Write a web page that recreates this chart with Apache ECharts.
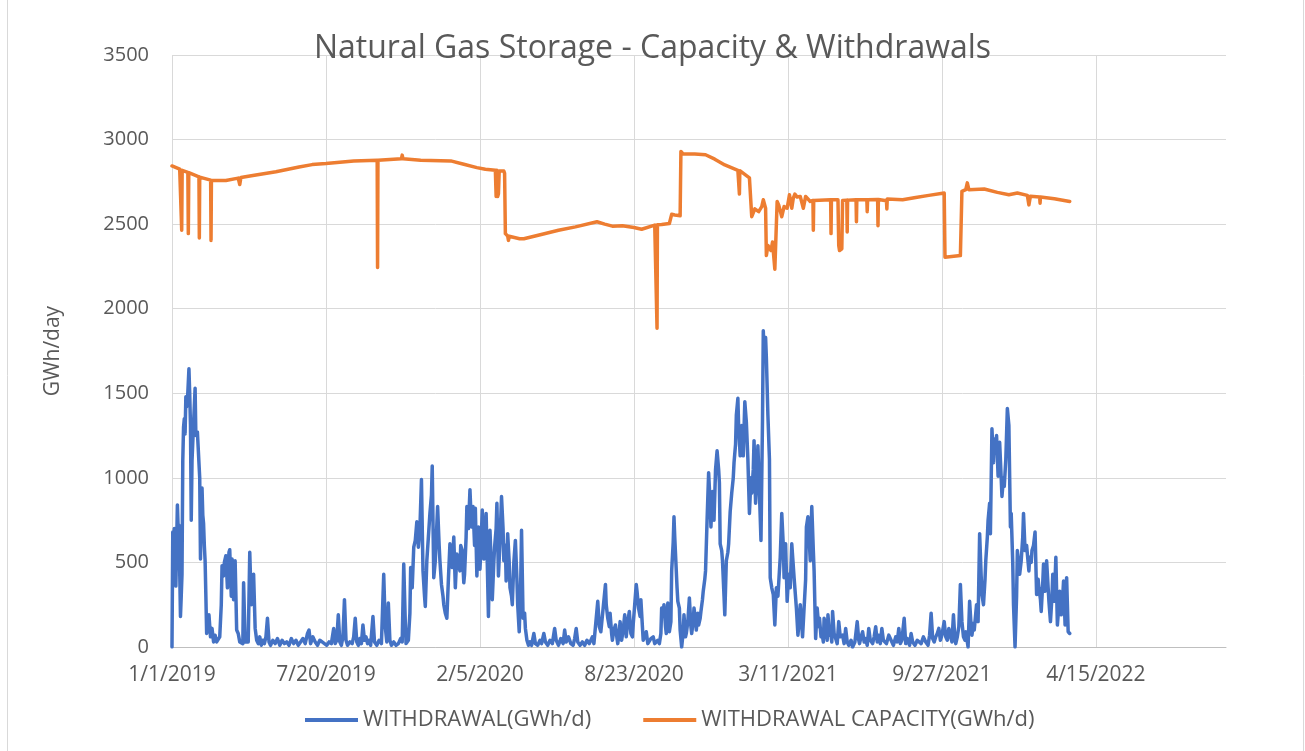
<!DOCTYPE html>
<html>
<head>
<meta charset="utf-8">
<title>Natural Gas Storage - Capacity & Withdrawals</title>
<script src="https://cdn.jsdelivr.net/npm/echarts@6/dist/echarts.min.js"></script>
<style>
  html, body { margin: 0; padding: 0; background: #fff; }
  #chart { width: 1305px; height: 751px; }
</style>
</head>
<body>
<div id="chart"></div>
<script>
// x values are days counted from 1/1/2019 (the axis is a 200-day date axis)
const xTickLabels = ['1/1/2019', '7/20/2019', '2/5/2020', '8/23/2020', '3/11/2021', '9/27/2021', '4/15/2022']
const yTicks = [0, 500, 1000, 1500, 2000, 2500, 3000, 3500]

// WITHDRAWAL(GWh/d) : [day, value]
const withdrawal = [
  [0,0],[1,680],[2,600],[3,700],[4,650],[5,360],[6,600],[7,840],[8,700],[9,720],[10,450],[11,180],[12,300],[13,430],
  [14,1100],[15,1300],[16,1350],[17,1260],[18,1480],[19,1420],[20,1450],[22,1645],[23,1500],[24,1310],[25,750],[26,1100],
  [28,1320],[30,1530],[31,1250],[33,1270],[35,1280],[36,1000],[37,520],[38,800],[39,940],[40,780],[41,730],[42,600],
  [43,510],[44,300],[45,80],[47,120],[48,190],[50,60],[52,110],[54,30],[56,70],[58,30],[60,20],[62,60],[64,250],[65,480],
  [67,420],[68,500],[70,540],[72,350],[74,560],[75,575],[77,300],[78,520],[80,280],[82,510],[84,100],[86,80],[88,30],
  [90,40],[92,20],[93,380],[95,30],[97,40],[99,30],[101,560],[103,250],[104,350],[106,430],[108,110],[110,40],[112,20],
  [114,60],[116,10],[118,40],[120,20],[122,60],[124,170],[126,30],[128,10],[131,40],[134,20],[137,50],[140,10],[143,40],
  [146,20],[149,30],[152,10],[155,50],[158,20],[161,40],[164,10],[167,30],[170,50],[173,20],[176,80],[178,100],[180,20],
  [183,60],[186,30],[189,10],[192,40],[195,30],[198,20],
  [201,10],[204,30],[207,20],[210,110],[212,20],[214,40],[216,190],[218,30],[220,10],[222,60],[224,280],[226,40],[228,10],
  [231,30],[234,20],[236,60],[238,170],[240,30],[242,10],[244,50],[246,20],[248,130],[250,40],[252,60],[254,20],[256,40],
  [258,10],[261,180],[263,30],[266,10],[269,40],[272,20],[275,430],[277,120],[279,30],[281,260],[283,40],[285,10],[288,30],
  [291,10],[294,20],[297,50],[299,30],[301,490],[303,150],[304,20],[306,30],[307,40],[309,200],[310,470],[312,350],
  [314,590],[316,630],[318,740],[320,590],[322,700],[324,990],[326,450],[328,300],[329,240],[331,510],[333,650],[335,790],
  [337,900],[338,1070],[340,410],[342,510],[343,620],[345,830],[347,600],[348,510],[350,370],[352,300],[353,250],[355,200],
  [357,170],[359,400],[361,610],[363,520],[364,470],[366,650],[368,350],[370,550],[372,500],[374,450],[375,600],[377,570],
  [379,380],[380,430],[382,650],[383,830],[385,700],[387,930],[389,710],[391,830],[393,600],[394,820],[396,420],[398,710],
  [400,460],[401,560],[403,810],[405,520],[406,510],[408,790],[409,600],[411,180],[413,690],[415,450],[416,280],[418,500],
  [419,590],[421,700],[422,850],[424,420],[426,620],[428,890],[430,700],[431,510],[433,600],[434,390],[436,670],[438,500],
  [439,350],[441,300],[442,250],[444,500],[446,630],[448,400],[449,250],[451,90],[453,400],[454,690],[456,170],[458,200],
  [459,110],[461,40],[463,10],[465,30],[467,10],[470,80],[472,20],[475,10],[478,40],[480,20],[483,80],[485,30],[488,10],
  [491,40],[494,20],[497,110],[499,40],[502,10],[505,50],[508,20],[510,100],[512,30],[515,60],[518,20],[521,10],[523,50],
  [525,110],[527,30],[530,10],[533,30],[536,10],[539,40],[542,20],[544,10],[546,60],[548,20],[550,30],[553,270],[555,120],
  [557,90],[560,230],[563,370],[564,250],[566,170],[568,120],[569,200],[571,80],[572,40],[574,100],[576,130],[578,50],
  [579,20],[581,90],[582,150],[584,40],[586,100],[588,190],[590,60],[592,150],[594,210],[596,80],[598,60],[599,130],
  [601,250],[603,370],[604,330],[606,230],[608,180],[609,280],[611,120],[612,40],[614,60],[616,90],[618,20],[620,10],
  [622,50],[625,60],[627,20],[629,10],[631,40],[633,20],[635,80],[636,230],[638,200],[639,250],[641,120],[642,80],[644,260],
  [646,90],[648,150],[649,450],[651,620],[652,770],[653,650],[654,550],[656,350],[657,270],[659,230],[660,100],[662,0],
  [664,90],[665,190],[667,60],[668,80],[670,150],[672,290],[674,120],[675,80],[677,150],[678,230],[680,160],[681,100],
  [683,200],[684,130],[686,170],[687,210],[689,280],[690,330],[692,400],[693,450],[695,750],[697,1030],[699,850],[700,710],
  [702,920],[704,750],[706,1050],[708,1160],[710,1050],[711,970],[712,610],[714,570],[715,510],[717,300],[718,190],
  [720,510],[722,560],[723,610],[725,800],[727,910],[729,1000],[730,1090],[732,1200],[733,1370],[735,1470],[736,1300],
  [738,1130],[740,1310],[742,1130],[744,1450],[746,1330],[748,1110],[750,790],[752,1000],[753,910],[755,1050],[756,1220],
  [758,850],[760,1050],[761,1190],[763,910],[765,630],[767,1350],[768,1870],[769,1750],[770,1810],[771,1830],[772,1710],
  [774,1370],[776,1110],[777,410],[779,350],[781,310],[783,130],[785,350],[787,300],[788,290],[790,530],[792,790],[794,600],
  [795,410],[797,610],[799,270],[801,430],[803,350],[805,610],[806,600],[808,410],[809,420],[811,230],[813,70],[815,180],
  [816,250],[818,120],[819,60],[821,50],[823,400],[824,710],[826,770],[828,600],[829,510],[831,830],[833,570],[834,450],
  [836,50],[838,230],[840,120],[841,170],[843,60],[844,90],[846,30],[847,170],[849,110],[851,40],[852,190],[854,70],
  [855,100],[857,30],[858,210],[860,80],[862,50],[864,20],[866,150],[868,60],[871,70],[873,20],[875,110],[877,30],[879,10],
  [882,40],[884,0],[887,30],[890,150],[892,40],[893,20],[895,60],[897,90],[899,30],[901,50],[903,10],[905,110],[907,40],
  [910,20],[912,60],[914,120],[916,30],[918,70],[920,20],[922,110],[924,40],[925,50],[928,20],[931,70],[934,40],[937,10],
  [940,60],[942,30],[944,110],[946,20],[948,40],[951,170],[953,20],[955,50],[958,10],[960,80],[962,30],[965,10],[968,40],
  [970,40],[973,20],[976,60],[979,30],[982,10],[984,70],[986,200],[988,50],[990,30],[992,60],[994,80],[996,110],[998,40],
  [1000,70],[1003,150],[1005,60],[1007,40],[1009,110],[1011,70],[1013,30],[1015,190],[1017,40],[1018,20],[1020,60],
  [1022,120],[1024,370],[1026,150],[1028,60],[1030,40],[1031,90],[1033,30],[1034,0],[1036,270],[1038,120],[1039,70],
  [1041,140],[1042,100],[1044,200],[1045,250],[1047,150],[1049,670],[1051,420],[1052,310],[1054,250],[1056,400],[1057,510],
  [1059,650],[1060,750],[1062,850],[1063,670],[1065,1290],[1067,1090],[1068,1230],[1070,1160],[1071,1250],[1073,1010],
  [1075,1210],[1077,1000],[1078,890],[1080,1000],[1081,950],[1083,1110],[1085,1410],[1087,1310],[1089,710],[1090,790],
  [1092,500],[1093,250],[1095,0],[1097,300],[1098,570],[1100,480],[1101,430],[1103,510],[1105,650],[1106,790],[1108,570],
  [1110,600],[1111,610],[1113,450],[1114,530],[1116,500],[1117,570],[1119,600],[1121,680],[1123,310],[1125,400],[1126,350],
  [1128,280],[1129,210],[1131,380],[1132,490],[1134,330],[1136,510],[1138,350],[1139,270],[1141,150],[1143,300],[1144,430],
  [1146,270],[1148,530],[1150,130],[1152,250],[1153,330],[1155,190],[1156,220],[1158,390],[1160,130],[1162,410],[1164,90],
  [1166,80]
]

// WITHDRAWAL CAPACITY(GWh/d) : [day, value]
const capacity = [
  [0,2844],[10,2825],[12,2820],[12.6,2464],[13.2,2818],[20.6,2806],[21.2,2444],[21.8,2804],[35,2780],[35.5,2418],[36,2778],
  [50.2,2760],[50.7,2404],[51.2,2758],[70,2758],[86,2772],[88,2734],[89.5,2776],[105,2788],[135,2810],[165,2838],[182,2852],
  [200,2858],[236,2874],[266.5,2878],[267,2244],[267.5,2878],[298,2886],[299,2908],[300,2886],[323,2878],[362,2874],
  [379,2854],[396,2834],[407,2824],[420,2818],[421,2664],[422,2818],[423,2664],[424,2680],[425,2814],[431,2814],[432,2800],
  [433,2444],[436,2430],[437,2404],[438,2428],[442,2424],[451.5,2414],[452,2404],[452.5,2414],[457,2414],[481,2440],
  [502,2464],[524,2484],[552,2514],[562,2500],[572,2488],[585,2490],[600,2480],[610,2470],[627,2494],[629.5,2496],
  [630,1884],[630.5,2496],[636,2498],[646,2504],[648,2508],[649,2558],[653,2554],[660,2550],[661,2930],[664,2914],
  [679,2914],[693,2910],[705,2884],[718,2850],[735,2818],[736.5,2816],[737,2678],[737.5,2816],[740,2814],[750,2774],
  [752,2770],[753,2544],[757,2590],[762,2574],[766,2604],[768,2644],[771,2594],[772,2314],[774,2374],[778,2344],[780,2394],
  [782,2390],[783,2234],[784,2240],[786,2634],[788,2614],[792,2544],[795,2604],[799,2594],[802,2674],[805,2594],[807,2654],
  [809,2678],[812,2660],[816,2664],[820,2594],[823,2664],[829,2634],[832.5,2640],[833,2464],[833.5,2640],[836,2644],
  [855.5,2644],[856,2444],[856.5,2644],[865,2644],[866,2374],[867,2344],[870,2354],[871,2640],[876.5,2642],[877,2454],
  [877.5,2642],[888.5,2644],[889,2514],[889.5,2644],[902.5,2644],[903,2574],[903.5,2644],[916.5,2646],[917,2490],
  [917.5,2646],[928,2638],[928.5,2590],[929,2648],[949,2644],[966,2658],[983,2670],[1003,2684],[1004,2304],[1024,2314],
  [1026,2694],[1031,2704],[1033,2744],[1035,2704],[1055,2708],[1072,2688],[1087,2674],[1098,2684],[1111,2670],[1113,2614],
  [1114,2640],[1115,2665],[1127,2660],[1127.5,2624],[1128,2660],[1146,2650],[1166,2634]
]

const textColor = '#595959'
const gridColor = '#d9d9d9'
const fontFamily = '"Open Sans", sans-serif'

const chart = echarts.init(document.getElementById('chart'), null, { renderer: 'canvas' })

chart.setOption({
  backgroundColor: '#ffffff',
  animation: false,
  textStyle: { fontFamily: fontFamily, color: textColor },
  title: {
    text: 'Natural Gas Storage - Capacity & Withdrawals',
    left: 'center',
    top: 28,
    textStyle: { fontFamily: fontFamily, fontSize: 32, fontWeight: 'normal', color: textColor }
  },
  graphic: [{
    type: 'rect',
    silent: true,
    shape: { x: 7.5, y: -5, width: 1296, height: 765 },
    style: { fill: 'none', stroke: gridColor, lineWidth: 1 }
  }],
  legend: {
    left: 300,
    top: 704,
    icon: 'rect',
    itemWidth: 53,
    itemHeight: 4,
    itemGap: 52,
    textStyle: { fontFamily: fontFamily, fontSize: 22, color: textColor },
    data: ['WITHDRAWAL(GWh/d)', 'WITHDRAWAL CAPACITY(GWh/d)']
  },
  grid: { left: 172, right: 79, top: 55, bottom: 104, containLabel: false },
  xAxis: {
    type: 'value',
    min: 0,
    max: 1369,
    interval: 200,
    axisLine: { show: true, lineStyle: { color: '#bfbfbf', width: 1 } },
    axisTick: { show: false },
    axisLabel: {
      margin: 18,
      fontSize: 21,
      color: textColor,
      showMaxLabel: false,
      formatter: function (v) {
        const label = xTickLabels[v / 200]
        return label === undefined ? '' : label
      }
    },
    splitLine: { show: true, showMaxLine: false, lineStyle: { color: gridColor, width: 1 } }
  },
  yAxis: {
    type: 'value',
    min: yTicks[0],
    max: yTicks[yTicks.length - 1],
    interval: 500,
    name: 'GWh/day',
    nameLocation: 'middle',
    nameRotate: 90,
    nameGap: 108,
    nameTextStyle: { fontFamily: fontFamily, fontSize: 21, color: textColor },
    axisLine: { show: false },
    axisTick: { show: false },
    axisLabel: {
      margin: 23,
      fontSize: 20,
      color: textColor,
      formatter: function (v) { return String(v) }
    },
    splitLine: { show: true, lineStyle: { color: gridColor, width: 1 } }
  },
  series: [
    {
      name: 'WITHDRAWAL(GWh/d)',
      type: 'line',
      data: withdrawal,
      showSymbol: false,
      symbol: 'none',
      color: '#4472C4',
      lineStyle: { color: '#4472C4', width: 3.5, join: 'round', cap: 'round' }
    },
    {
      name: 'WITHDRAWAL CAPACITY(GWh/d)',
      type: 'line',
      data: capacity,
      showSymbol: false,
      symbol: 'none',
      color: '#ED7D31',
      lineStyle: { color: '#ED7D31', width: 3.5, join: 'round', cap: 'round' }
    }
  ]
})
</script>
</body>
</html>
